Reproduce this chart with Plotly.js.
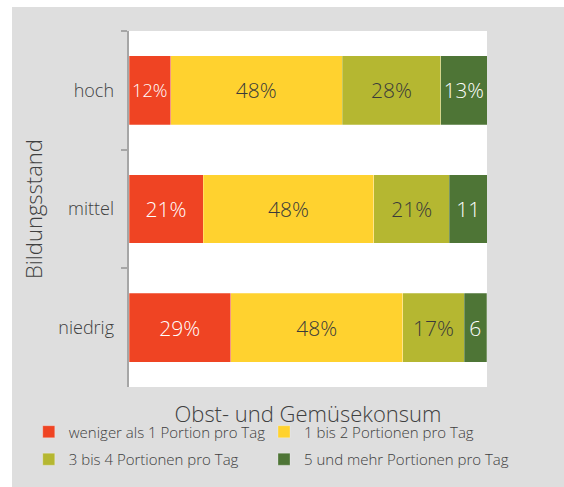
<!DOCTYPE html>
<html>
<head>
<meta charset="utf-8">
<script src="https://cdn.plot.ly/plotly-3.0.1.min.js"></script>
<style>
html,body{margin:0;padding:0;background:#ffffff;}
#chart{position:absolute;left:12px;top:7px;width:552px;height:480px;}
</style>
</head>
<body>
<div id="chart"></div>
<script>
const categories = ['hoch', 'mittel', 'niedrig'];
const seriesNames = ['weniger als 1 Portion pro Tag', '1 bis 2 Portionen pro Tag', '3 bis 4 Portionen pro Tag', '5 und mehr Portionen pro Tag'];
const weniger = [11.6, 20.7, 28.4];
const einsBisZwei = [47.9, 47.7, 48.1];
const dreiBisVier = [27.6, 21.1, 17.1];
const fuenfUndMehr = [12.9, 10.5, 6.3];
const wenigerLabels = ['12%', '21%', '29%'];
const einsBisZweiLabels = ['48%', '48%', '48%'];
const dreiBisVierLabels = ['28%', '21%', '17%'];
const fuenfUndMehrLabels = ['13%', '11', '6'];

const colors = ['#EF4423', '#FFD22F', '#B5B731', '#4E7536'];
const textColors = ['#ffffff', '#3a3a3a', '#3a3a3a', '#ffffff'];
const legendIds = ['legend', 'legend2', 'legend', 'legend2'];
const values = [weniger, einsBisZwei, dreiBisVier, fuenfUndMehr];
const labels = [wenigerLabels, einsBisZweiLabels, dreiBisVierLabels, fuenfUndMehrLabels];
const FONT = 'Open Sans, sans-serif';

const traces = values.map((v, i) => ({
  type: 'bar',
  orientation: 'h',
  name: seriesNames[i],
  legend: legendIds[i],
  legendgroup: 'g' + i,
  y: categories,
  x: v,
  text: labels[i],
  textposition: 'inside',
  textangle: 0,
  insidetextanchor: 'middle',
  textfont: {family: FONT, size: 21, weight: 300, color: textColors[i]},
  marker: {color: colors[i], line: {color: 'rgba(255,255,255,0.5)', width: 0.5}},
  hoverinfo: 'skip'
}));

const legendBase = {
  orientation: 'v',
  xanchor: 'left',
  yanchor: 'top',
  y: -0.08,
  traceorder: 'grouped',
  tracegroupgap: 5,
  font: {family: FONT, size: 15, weight: 300, color: '#404040'},
  bgcolor: 'rgba(0,0,0,0)',
  borderwidth: 0,
  itemclick: false,
  itemdoubleclick: false
};

const layout = {
  width: 552,
  height: 480,
  barmode: 'stack',
  bargap: 0.42,
  paper_bgcolor: '#DEDEDE',
  plot_bgcolor: '#ffffff',
  margin: {l: 117, r: 77, t: 24, b: 100},
  font: {family: FONT, color: '#404040'},
  xaxis: {
    range: [0, 100],
    showticklabels: false,
    showgrid: false,
    zeroline: false,
    showline: false,
    ticks: '',
    fixedrange: true,
    title: {text: 'Obst- und Gemüsekonsum', font: {family: FONT, size: 22, weight: 300, color: '#404040'}, standoff: 19}
  },
  yaxis: {
    categoryorder: 'array',
    categoryarray: categories,
    autorange: 'reversed',
    showline: true,
    linecolor: '#A6A6A6',
    linewidth: 2,
    ticks: 'outside',
    tickson: 'boundaries',
    ticklen: 6,
    tickcolor: '#A6A6A6',
    tickwidth: 2,
    ticksuffix: '  ',
    tickfont: {family: FONT, size: 18, weight: 300, color: '#404040'},
    showgrid: false,
    zeroline: false,
    title: {text: 'Bildungsstand', font: {family: FONT, size: 22, weight: 300, color: '#404040'}, standoff: 10}
  },
  showlegend: true,
  legend: Object.assign({}, legendBase, {x: -0.28}),
  legend2: Object.assign({}, legendBase, {x: (252 - 117) / 358})
};

Plotly.newPlot('chart', traces, layout, {displayModeBar: false, staticPlot: true});
</script>
</body>
</html>
